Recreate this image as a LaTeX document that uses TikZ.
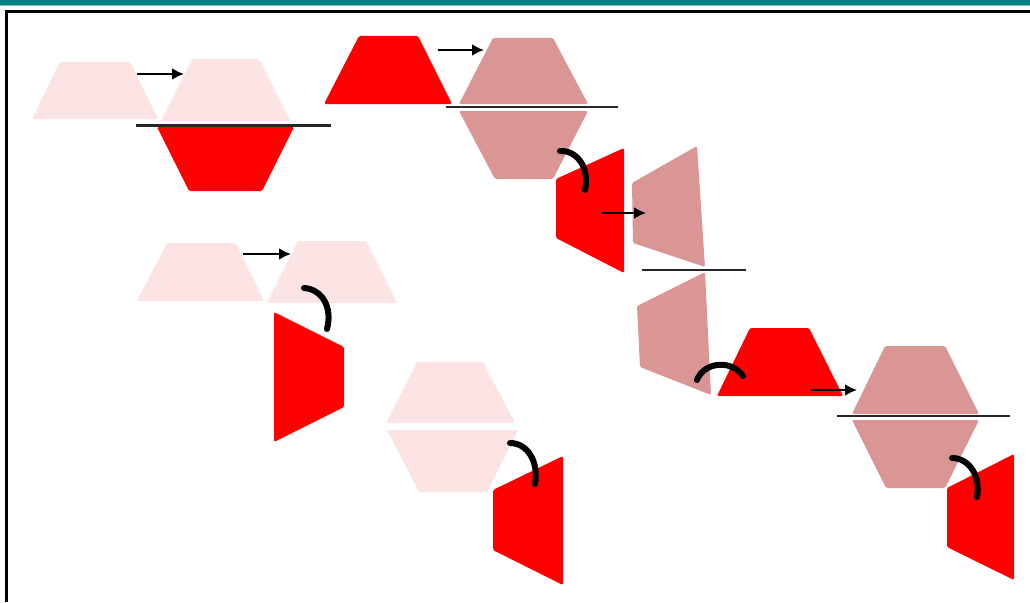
\documentclass[tikz,border=0pt]{standalone}
\usetikzlibrary{arrows.meta}
\definecolor{pinkl}{RGB}{252,228,228}
\definecolor{rosec}{RGB}{217,150,148}
\definecolor{redc}{RGB}{255,0,0}
\definecolor{tealc}{RGB}{0,128,128}
\definecolor{teall}{RGB}{140,196,196}
\tikzset{
  lightshape/.style={fill=pinkl,draw=none,rounded corners=1pt},
  roseshape/.style={fill=rosec,draw=none,rounded corners=1.5pt},
  redshape/.style={fill=redc,draw=none,rounded corners=1.5pt},
  straightarrow/.style={draw=black,line width=2.6pt,-{Latex[length=12pt,width=12pt]}},
  curvearrow/.style={draw=black,line width=6pt,line cap=round},
  splitline/.style={draw=black!85,line width=2.4pt}
}
\begin{document}
\begin{tikzpicture}[x=1pt,y=-1pt]
\useasboundingbox (0,0) rectangle (1030,602);
\fill[white] (0,0) rectangle (1030,602);
% header bar and frame
\fill[tealc] (0,0) rectangle (1030,5);
\fill[teall] (0,5) rectangle (1030,6.5);
\draw[black,line width=3.5pt] (6.5,602) -- (6.5,11.5) -- (1030,11.5);

% ---------- group 1 (top left) ----------
\path[lightshape] (60,62) -- (130,62) -- (158,119) -- (32,119) -- cycle;
\path[lightshape] (192,59) -- (259,59) -- (290,121) -- (161,121) -- cycle;
\path[redshape] (157,127) -- (294,127) -- (262,191) -- (189,191) -- cycle;
\coordinate (a1s) at (137,74); \coordinate (a1e) at (184,74);
\draw[straightarrow] (a1s) -- (a1e);
\coordinate (l1s) at (136,125.5); \coordinate (l1e) at (331,125.5);
\draw[splitline] (l1s) -- (l1e);

% ---------- group 2 (top middle) ----------
\path[redshape] (359,36) -- (418,36) -- (452,104) -- (324,104) -- cycle;
\path[roseshape] (493,38) -- (553,38) -- (588,104) -- (459,104) -- cycle;
\path[roseshape] (459,111) -- (588,111) -- (553,179) -- (495,179) -- cycle;
\path[redshape] (556,179) -- (624,148) -- (624,273) -- (556,238) -- cycle;
\coordinate (a2s) at (438,50); \coordinate (a2e) at (484,50);
\draw[straightarrow] (a2s) -- (a2e);
\coordinate (l2s) at (446,107); \coordinate (l2e) at (618,107);
\draw[splitline] (l2s) -- (l2e);
\coordinate (c2s) at (560,151); \coordinate (c2e) at (585,190);
\draw[curvearrow] (c2s) .. controls (577,150) and (590,168) .. (c2e);

% ---------- group 3 (vertical rose pair) ----------
\path[roseshape] (632,183) -- (697,146) -- (705,267) -- (633,243) -- cycle;
\path[roseshape] (637,306) -- (705,272) -- (711,395) -- (640,367) -- cycle;
\coordinate (a3s) at (602,213); \coordinate (a3e) at (646,213);
\draw[straightarrow] (a3s) -- (a3e);
\coordinate (l3s) at (642,270); \coordinate (l3e) at (746,270);
\draw[splitline] (l3s) -- (l3e);

% ---------- group 4 (lower right) ----------
\path[redshape] (750,328) -- (809,328) -- (843,396) -- (717,396) -- cycle;
\coordinate (c4s) at (697,380); \coordinate (c4e) at (743,376);
\draw[curvearrow] (c4s) .. controls (704,362) and (731,359) .. (c4e);
\path[roseshape] (885,346) -- (945,346) -- (979,414) -- (852,414) -- cycle;
\path[roseshape] (852,420) -- (979,420) -- (945,488) -- (886,488) -- cycle;
\path[redshape] (947,488) -- (1014,454) -- (1014,580) -- (947,547) -- cycle;
\coordinate (a4s) at (811,390); \coordinate (a4e) at (857,390);
\draw[straightarrow] (a4s) -- (a4e);
\coordinate (l4s) at (837,416); \coordinate (l4e) at (1010,416);
\draw[splitline] (l4s) -- (l4e);
\coordinate (c5s) at (952,458); \coordinate (c5e) at (977,497);
\draw[curvearrow] (c5s) .. controls (969,458) and (981,476) .. (c5e);

% ---------- group 5 (middle left) ----------
\path[lightshape] (167,243) -- (236,243) -- (264,301) -- (137,301) -- cycle;
\path[lightshape] (298,241) -- (366,241) -- (397,303) -- (267,303) -- cycle;
\path[redshape] (274,312) -- (344,347) -- (344,407) -- (274,442) -- cycle;
\coordinate (a5s) at (243,254); \coordinate (a5e) at (291,254);
\draw[straightarrow] (a5s) -- (a5e);
\coordinate (c6s) at (304,288); \coordinate (c6e) at (327,329);
\draw[curvearrow] (c6s) .. controls (321,289) and (333,306) .. (c6e);

% ---------- group 6 (bottom middle) ----------
\path[lightshape] (417,362) -- (483,362) -- (515,423) -- (386,423) -- cycle;
\path[lightshape] (387,430) -- (518,430) -- (487,492) -- (419,492) -- cycle;
\path[redshape] (493,490) -- (563,456) -- (563,585) -- (493,550) -- cycle;
\coordinate (c7s) at (510,443); \coordinate (c7e) at (535,484);
\draw[curvearrow] (c7s) .. controls (527,443) and (539,461) .. (c7e);
\end{tikzpicture}
\end{document}
